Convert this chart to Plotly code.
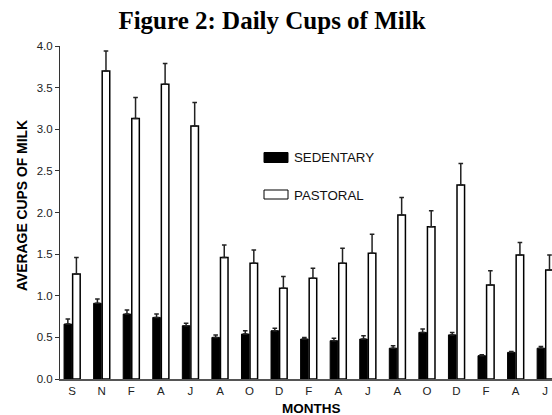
import plotly.graph_objects as go

months = ["S", "N", "F", "A", "J", "A", "O", "D", "F", "A", "J", "A", "O", "D", "F", "A", "J"]
sedentary = [0.66, 0.91, 0.78, 0.74, 0.64, 0.50, 0.54, 0.58, 0.48, 0.46, 0.48, 0.37, 0.56, 0.53, 0.28, 0.32, 0.37]
sedentary_err = [0.06, 0.05, 0.05, 0.04, 0.03, 0.03, 0.04, 0.03, 0.02, 0.03, 0.04, 0.03, 0.04, 0.03, 0.01, 0.01, 0.02]
pastoral = [1.26, 3.70, 3.13, 3.54, 3.04, 1.46, 1.39, 1.09, 1.21, 1.39, 1.51, 1.97, 1.83, 2.33, 1.13, 1.49, 1.31]
pastoral_err = [0.20, 0.24, 0.25, 0.25, 0.28, 0.15, 0.16, 0.14, 0.12, 0.18, 0.23, 0.21, 0.19, 0.26, 0.17, 0.15, 0.18]
y_ticks = [0.0, 0.5, 1.0, 1.5, 2.0, 2.5, 3.0, 3.5, 4.0]

x_idx = list(range(len(months)))

W, H = 552, 415
L, R, T, B = 60, 0, 46, 36
pw, ph = W - L - R, H - T - B

def px(x):  # screen pixel -> paper x
    return (x - L) / pw

def py(y):  # screen pixel -> paper y
    return (H - B - y) / ph

fig = go.Figure()
fig.add_trace(go.Bar(
    x=x_idx, y=sedentary, name="SEDENTARY",
    marker=dict(color="black", line=dict(color="black", width=1)),
    error_y=dict(type="data", array=sedentary_err, arrayminus=[0] * len(months),
                 symmetric=False, color="#222", thickness=1.5, width=2.3),
    showlegend=False,
))
fig.add_trace(go.Bar(
    x=x_idx, y=pastoral, name="PASTORAL",
    marker=dict(color="white", line=dict(color="black", width=1.5)),
    error_y=dict(type="data", array=pastoral_err, arrayminus=[0] * len(months),
                 symmetric=False, color="#222", thickness=1.5, width=2.3),
    showlegend=False,
))

tick_font = dict(family="Arial, Liberation Sans, sans-serif", size=11.5, color="#222")
sans = "Arial, Liberation Sans, sans-serif"

fig.update_layout(
    width=W, height=H,
    margin=dict(l=L, r=R, t=T, b=B, pad=0),
    paper_bgcolor="white", plot_bgcolor="white",
    barmode="group", bargap=0.42, bargroupgap=0.12,
    title=dict(text="<b>Figure 2: Daily Cups of Milk</b>",
               font=dict(family="Liberation Serif, Times New Roman, serif", size=25, color="black"),
               x=272 / W, xref="container", xanchor="center",
               y=1 - 20 / H, yref="container", yanchor="middle"),
    xaxis=dict(
        range=[-0.41, 16.23], tickmode="array", tickvals=x_idx, ticktext=months,
        showline=True, linecolor="#555", linewidth=1.5, ticks="", showgrid=False,
        zeroline=False, tickfont=tick_font,
    ),
    yaxis=dict(
        range=[0, 4.0], tickmode="array", tickvals=y_ticks,
        ticktext=[f"{v:.1f}" for v in y_ticks],
        showline=True, linecolor="#333", linewidth=1, ticks="outside", ticklen=4,
        tickcolor="#333", showgrid=False, zeroline=False, tickfont=tick_font,
    ),
    shapes=[
        dict(type="rect", xref="paper", yref="paper",
             x0=px(264), x1=px(288), y0=py(162.5), y1=py(152.5),
             fillcolor="black", line=dict(color="black", width=1)),
        dict(type="rect", xref="paper", yref="paper",
             x0=px(264), x1=px(288), y0=py(199), y1=py(190),
             fillcolor="white", line=dict(color="black", width=1)),
    ],
    annotations=[
        dict(text="SEDENTARY", xref="paper", yref="paper", x=px(292), y=py(157.5),
             xanchor="left", yanchor="middle", showarrow=False,
             font=dict(family=sans, size=13.3, color="#111")),
        dict(text="PASTORAL", xref="paper", yref="paper", x=px(292), y=py(195),
             xanchor="left", yanchor="middle", showarrow=False,
             font=dict(family=sans, size=13.3, color="#111")),
        dict(text="<b>MONTHS</b>", xref="paper", yref="paper", x=px(311), y=py(408),
             xanchor="center", yanchor="middle", showarrow=False,
             font=dict(family=sans, size=13.5, color="black")),
        dict(text="<b>AVERAGE CUPS OF MILK</b>", xref="paper", yref="paper", x=px(22), y=py(206),
             xanchor="center", yanchor="middle", textangle=-90, showarrow=False,
             font=dict(family=sans, size=13.9, color="black")),
    ],
)

fig.write_html(
    "out.html",
    config={"displayModeBar": False},
    post_script="document.body.style.margin='0';document.body.style.overflow='hidden';",
)
